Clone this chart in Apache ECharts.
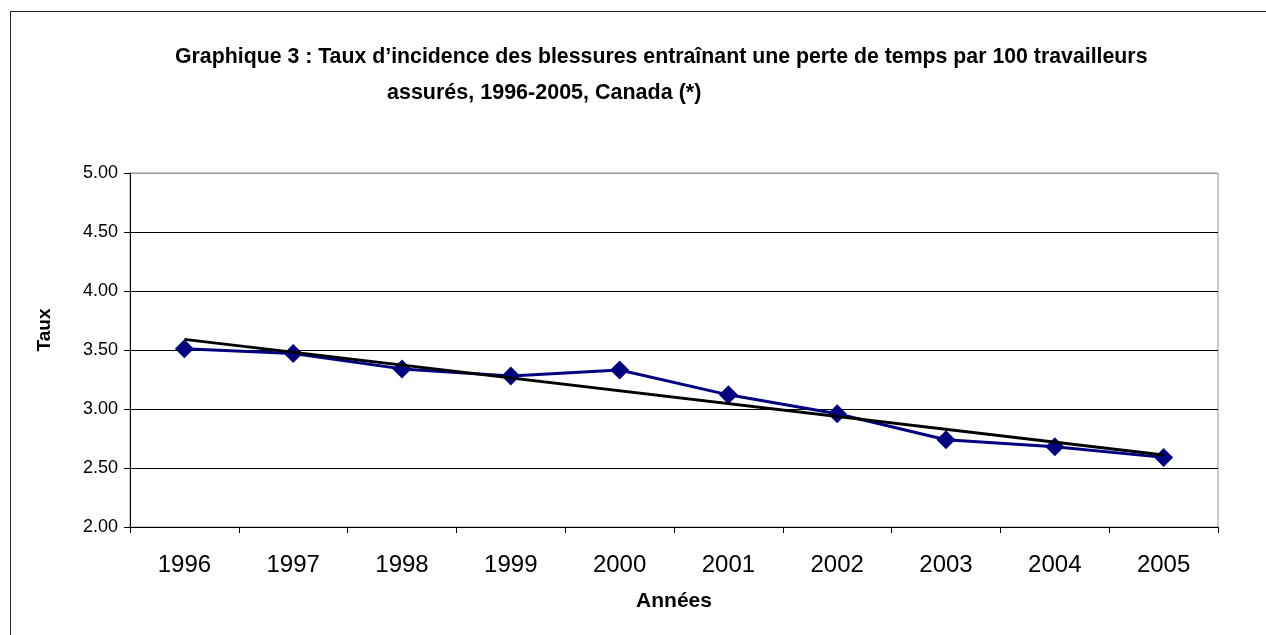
<!DOCTYPE html>
<html>
<head>
<meta charset="utf-8">
<script src="https://cdn.jsdelivr.net/npm/echarts@6/dist/echarts.min.js"></script>
<style>
  html, body { margin: 0; padding: 0; background: #fff; }
  #chart { width: 1266px; height: 635px; }
</style>
</head>
<body>
<div id="chart"></div>
<script>
// données
var annees = ['1996', '1997', '1998', '1999', '2000', '2001', '2002', '2003', '2004', '2005'];
var taux = [3.51, 3.47, 3.34, 3.28, 3.33, 3.12, 2.96, 2.74, 2.68, 2.59];
// courbe de tendance (extrémités lues)
var tendance = [3.59, null, null, null, null, null, null, null, null, 2.61];
var yTicks = [2, 2.5, 3, 3.5, 4, 4.5, 5];

var font = '"Liberation Sans", Arial, sans-serif';

var chart = echarts.init(document.getElementById('chart'));

chart.setOption({
    animation: false,
    backgroundColor: '#fff',
    graphic: [
        {
            type: 'rect',
            shape: { x: 10.5, y: 11.5, width: 1300, height: 700 },
            style: { fill: 'none', stroke: '#222', lineWidth: 1 },
            silent: true
        },
        {
            type: 'text',
            left: 175,
            top: 47,
            style: {
                text: 'Graphique 3 : Taux d\u2019incidence des blessures entra\u00eenant une perte de temps par 100 travailleurs',
                font: 'bold 21.3px ' + font,
                fill: '#000'
            }
        },
        {
            type: 'text',
            left: 387,
            top: 82,
            style: {
                text: 'assur\u00e9s, 1996-2005, Canada (*)',
                font: 'bold 21.5px ' + font,
                fill: '#000'
            }
        },
        {
            // titre de l'axe vertical
            type: 'text',
            x: 45,
            y: 330,
            rotation: Math.PI / 2,
            style: {
                text: 'Taux',
                font: 'bold 19px ' + font,
                fill: '#000',
                align: 'center',
                verticalAlign: 'middle'
            }
        }
    ],
    grid: {
        left: 130,
        right: 48,
        top: 173,
        bottom: 108,
        show: true,
        borderColor: '#999',
        borderWidth: 1
    },
    xAxis: {
        type: 'category',
        data: annees,
        boundaryGap: true,
        name: 'Ann\u00e9es',
        nameLocation: 'middle',
        nameGap: 64,
        nameTextStyle: { fontFamily: font, fontSize: 21, fontWeight: 'bold', color: '#000' },
        axisLine: { lineStyle: { color: '#000', width: 1 } },
        axisTick: { show: true, interval: 0, length: 6, lineStyle: { color: '#000' } },
        axisLabel: { fontFamily: font, fontSize: 24, color: '#000', margin: 26, interval: 0 }
    },
    yAxis: {
        type: 'value',
        min: yTicks[0],
        max: yTicks[yTicks.length - 1],
        interval: 0.5,
        axisLine: { show: true, lineStyle: { color: '#000', width: 1 } },
        axisTick: { show: true, length: 6, lineStyle: { color: '#000' } },
        axisLabel: {
            fontFamily: font, fontSize: 18, color: '#000', margin: 12,
            formatter: function (v) { return v.toFixed(2); }
        },
        splitLine: {
            show: true,
            lineStyle: { color: ['#000', '#000', '#000', '#000', '#000', '#000', '#999'], width: 1 }
        }
    },
    series: [
        {
            name: 'Taux',
            type: 'line',
            data: taux,
            symbol: 'diamond',
            symbolSize: 19,
            lineStyle: { color: '#000080', width: 3 },
            itemStyle: { color: '#000080' },
            z: 2
        },
        {
            name: 'Tendance',
            type: 'line',
            data: tendance,
            connectNulls: true,
            showSymbol: false,
            symbol: 'none',
            lineStyle: { color: '#000', width: 3 },
            z: 3
        }
    ]
});
</script>
</body>
</html>
